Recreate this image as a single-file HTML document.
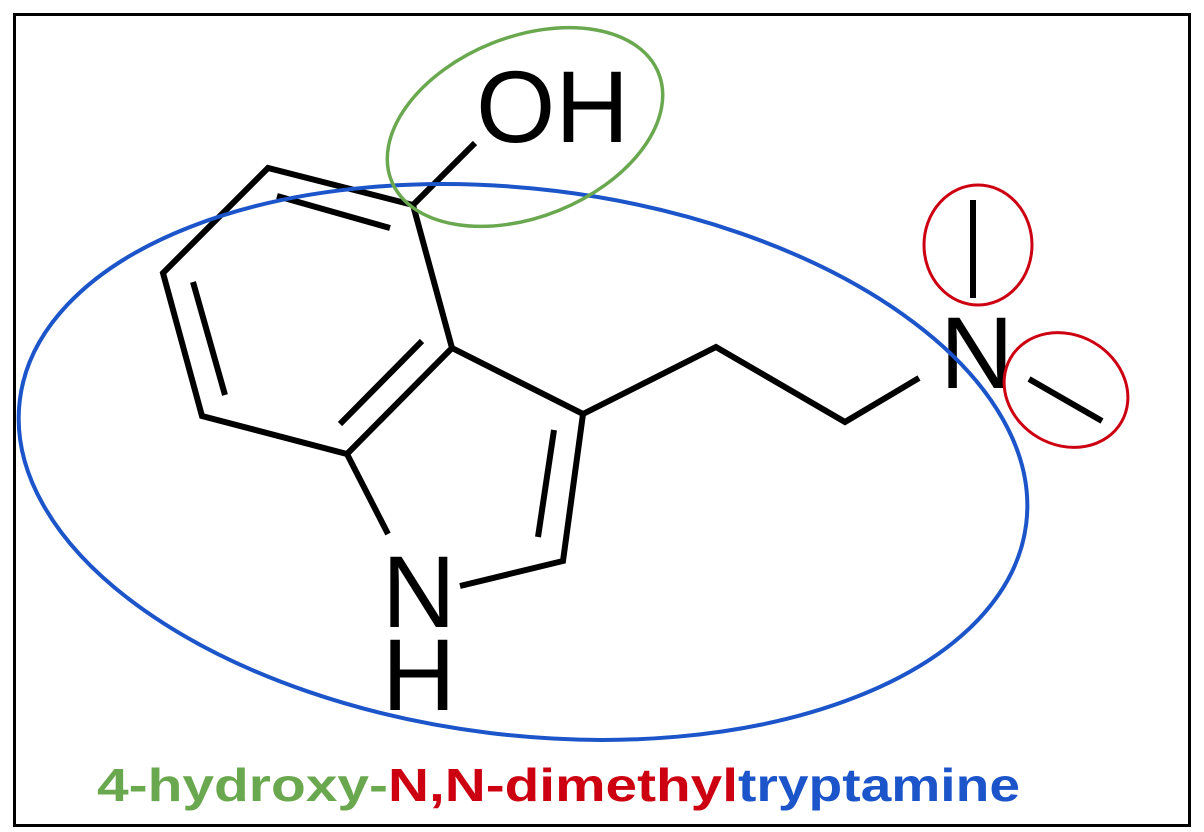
<!DOCTYPE html>
<html><head><meta charset="utf-8"><style>
html,body{margin:0;padding:0;background:#fff;}
svg{display:block;}
</style></head><body>
<svg width="1204" height="832" viewBox="0 0 1204 832" xmlns="http://www.w3.org/2000/svg">
<rect x="0" y="0" width="1204" height="832" fill="#fff"/>
<rect x="14.5" y="14.5" width="1175" height="811" fill="none" stroke="#000" stroke-width="3"/>
<g stroke="#000" stroke-width="6" fill="none" stroke-linecap="butt" stroke-linejoin="miter">
<polyline points="413,205 268,168 163,273 202,416 347,454 452,348 413,205 475,143"/>
<line x1="277" y1="196" x2="390" y2="228"/>
<line x1="193" y1="282" x2="225" y2="395"/>
<line x1="340" y1="424" x2="422" y2="341"/>
<line x1="347" y1="454" x2="388" y2="534"/>
<polyline points="460,586 563,561 583,414 452,348"/>
<line x1="538" y1="537" x2="554" y2="430"/>
<polyline points="583,414 716,347 845,422 919,378"/>
<line x1="973" y1="200" x2="973" y2="298"/>
<line x1="1029" y1="379" x2="1102" y2="421"/>
</g>
<g font-family="Liberation Sans, sans-serif" font-size="102" fill="#000">
<text x="476" y="142">OH</text>
<text x="382" y="627">N</text>
<text x="382" y="710">H</text>
<text x="940" y="388">N</text>
</g>
<ellipse cx="523" cy="462" rx="507" ry="273" transform="rotate(7 523 462)" fill="none" stroke="#1c55c9" stroke-width="4"/>
<ellipse cx="525" cy="127" rx="144" ry="90" transform="rotate(-22 525 127)" fill="none" stroke="#6aa84f" stroke-width="3.5"/>
<ellipse cx="978" cy="245" rx="54" ry="60" fill="none" stroke="#cc0011" stroke-width="3"/>
<ellipse cx="1066" cy="390" rx="64" ry="55" transform="rotate(30 1066 390)" fill="none" stroke="#cc0011" stroke-width="3"/>
<g font-family="Liberation Sans, sans-serif" font-weight="bold" font-size="46">
<text x="97" y="801" fill="#6aa84f" textLength="291" lengthAdjust="spacingAndGlyphs">4-hydroxy-</text>
<text x="388" y="801" fill="#cc0011" textLength="350" lengthAdjust="spacingAndGlyphs">N,N-dimethyl</text>
<text x="738" y="801" fill="#1c55c9" textLength="282" lengthAdjust="spacingAndGlyphs">tryptamine</text>
</g>
</svg>
</body></html>
